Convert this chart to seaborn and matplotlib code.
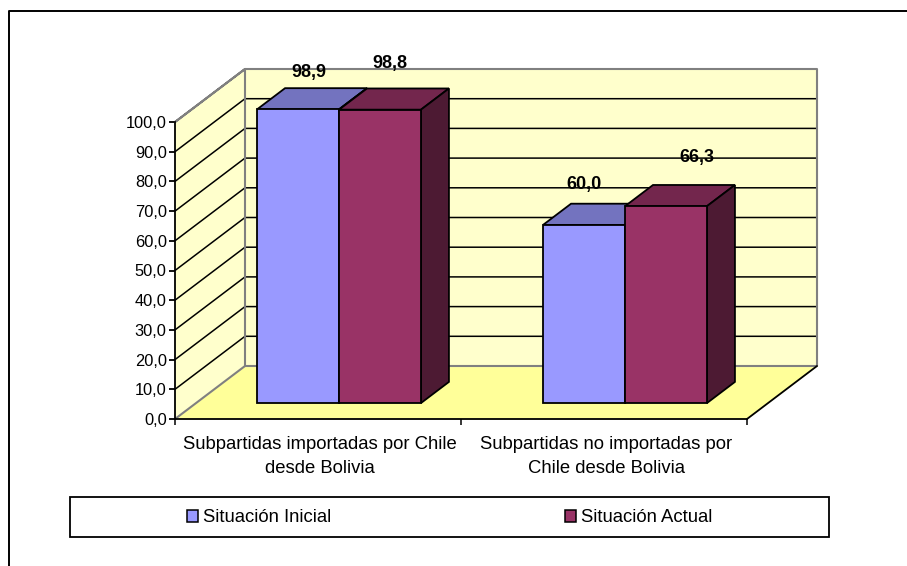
import matplotlib
matplotlib.use("Agg")
import matplotlib.pyplot as plt
from matplotlib.lines import Line2D
from matplotlib.patches import Patch, Rectangle
import pandas as pd
import seaborn as sns

# data
categorias = ["Subpartidas importadas por Chile\ndesde Bolivia",
              "Subpartidas no importadas por\nChile desde Bolivia"]
series = ["Situación Inicial", "Situación Actual"]
situacion_inicial = [98.9, 60.0]
situacion_actual = [98.8, 66.3]
y_ticks = [0, 10, 20, 30, 40, 50, 60, 70, 80, 90, 100]

# colours: front, top, side
colores = {"Situación Inicial": ("#9999FF", "#7373BF", "#4D4D80"),
           "Situación Actual": ("#993366", "#73264D", "#4D1A33")}

W, H = 907, 566
sns.set_theme(style="white")
plt.rcParams["font.family"] = ["Liberation Sans", "DejaVu Sans"]

dg = pd.DataFrame({
    "categoria": categorias * 2,
    "serie": [series[0]] * 2 + [series[1]] * 2,
    "valor": situacion_inicial + situacion_actual,
})

fig = plt.figure(figsize=(W / 100, H / 100), dpi=100)
ax = fig.add_axes([175 / W, (H - 419) / H, 572 / W, 297 / H])
ax.patch.set_visible(False)

sns.barplot(dg, x="categoria", y="valor", hue="serie", ax=ax, width=0.573,
            gap=0, saturation=1, legend=False, edgecolor="black", linewidth=1.3,
            palette={s: colores[s][0] for s in series})

ax.set_xlim(-0.5, 1.5)
ax.set_ylim(0, 100)
ax.set_xlabel("")
ax.set_ylabel("")

# depth of the fake 3D box in data units (70px across, 53px up)
dx = 70 / 286
dy = 53 / 2.97

GRIS = "#808080"
# floor and walls
ax.fill([-0.5, 1.5, 1.5 + dx, -0.5 + dx], [0, 0, dy, dy], color="#FFFF99", zorder=0, clip_on=False)
ax.fill([-0.5 + dx, 1.5 + dx, 1.5 + dx, -0.5 + dx], [dy, dy, 100 + dy, 100 + dy],
        color="#FFFFCC", zorder=0, clip_on=False)
ax.fill([-0.5, -0.5 + dx, -0.5 + dx, -0.5], [0, dy, 100 + dy, 100],
        color="#FFFFCC", zorder=0, clip_on=False)

for v in y_ticks[1:-1]:
    ax.plot([-0.5, -0.5 + dx, 1.5 + dx], [v, v + dy, v + dy], color="black", lw=1.1,
            zorder=1, clip_on=False, solid_joinstyle="miter")

ax.plot([-0.5, -0.5 + dx, 1.5 + dx, 1.5 + dx, -0.5 + dx, -0.5 + dx, -0.5],
        [100, 100 + dy, 100 + dy, dy, dy, 100 + dy, 100],
        color=GRIS, lw=1.5, zorder=1, clip_on=False)
ax.plot([-0.5, -0.5 + dx], [0, dy], color=GRIS, lw=1.5, zorder=1, clip_on=False)
ax.plot([1.5, 1.5 + dx], [0, dy], color="black", lw=1.3, zorder=1, clip_on=False)

# move the bars back into the box and add top and side faces
x_off = 0.3 * dx
y_off = 0.3 * dy
bx = 0.4 * dx
by = 0.4 * dy
barras = list(ax.patches)
nombres = [series[0]] * 2 + [series[1]] * 2
for z, (b, nombre) in enumerate(zip(barras, nombres)):
    b.set_x(b.get_x() + x_off)
    b.set_y(b.get_y() + y_off)
    b.set_clip_on(False)
    b.set_zorder(3 + z * 0.1)
    x0 = b.get_x()
    x1 = x0 + b.get_width()
    y0 = b.get_y()
    y1 = y0 + b.get_height()
    _, tapa, lado = colores[nombre]
    ax.fill([x0, x1, x1 + bx, x0 + bx], [y1, y1, y1 + by, y1 + by], facecolor=tapa,
            edgecolor="black", lw=1.3, zorder=2.5 + z * 0.1, clip_on=False)
    ax.fill([x1, x1 + bx, x1 + bx, x1], [y1, y1 + by, y0 + by, y0], facecolor=lado,
            edgecolor="black", lw=1.3, zorder=2.5 + z * 0.1, clip_on=False)

# value labels sit above the boxes, offsets in pixels
etiquetas = ["98,9", "60,0", "98,8", "66,3"]
offs = [(11, 37), (0, 40), (10, 46), (31, 49)]
for b, txt, (ox, oy) in zip(barras, etiquetas, offs):
    ax.annotate(txt, (b.get_x() + b.get_width() / 2, b.get_y() + b.get_height()),
                xytext=(ox, oy), textcoords="offset pixels", ha="center", va="center",
                fontsize=13, fontweight="bold", color="black", annotation_clip=False,
                zorder=6)

# axes
sns.despine(ax=ax, top=True, right=True)
for s in ["left", "bottom"]:
    ax.spines[s].set_color("black")
    ax.spines[s].set_linewidth(1.3)
    ax.spines[s].set_zorder(5)
ax.set_yticks(y_ticks)
ax.set_yticklabels([f"{v},0" for v in y_ticks])
ax.set_xticks([-0.5, 0.5, 1.5])
ax.set_xticklabels(["", "", ""])
ax.set_xticks([0.007, 1.007], minor=True)
ax.set_xticklabels(categorias, minor=True, fontsize=13.3, linespacing=1.55, color="black")
ax.tick_params(axis="y", direction="out", left=True, length=4, width=1.3, pad=2,
               labelsize=11.8, labelcolor="black", color="black")
ax.tick_params(axis="x", which="major", direction="out", bottom=True, length=4.5, width=1.1,
               color="black")
ax.tick_params(axis="x", which="minor", bottom=False, length=0, pad=12)

# legend box
fig.add_artist(Rectangle((70 / W, (H - 537) / H), 759 / W, 40 / H, transform=fig.transFigure,
                         facecolor="white", edgecolor="black", lw=1.3))
for nombre, lx in zip(series, [187, 565]):
    fig.legend(handles=[Patch(facecolor=colores[nombre][0], edgecolor="black", lw=1.1)],
               labels=[nombre], loc="center left", bbox_to_anchor=(lx / W, (H - 518) / H),
               frameon=False, fontsize=13.3, handlelength=0.62, handleheight=0.62,
               handletextpad=0.25, borderpad=0, borderaxespad=0, labelcolor="black")

# outer frame, only top and left show
fig.add_artist(Line2D([9 / W, 9 / W, 1], [0, (H - 11) / H, (H - 11) / H], color="black", lw=1.4))

fig.savefig("out.png", dpi=100)
